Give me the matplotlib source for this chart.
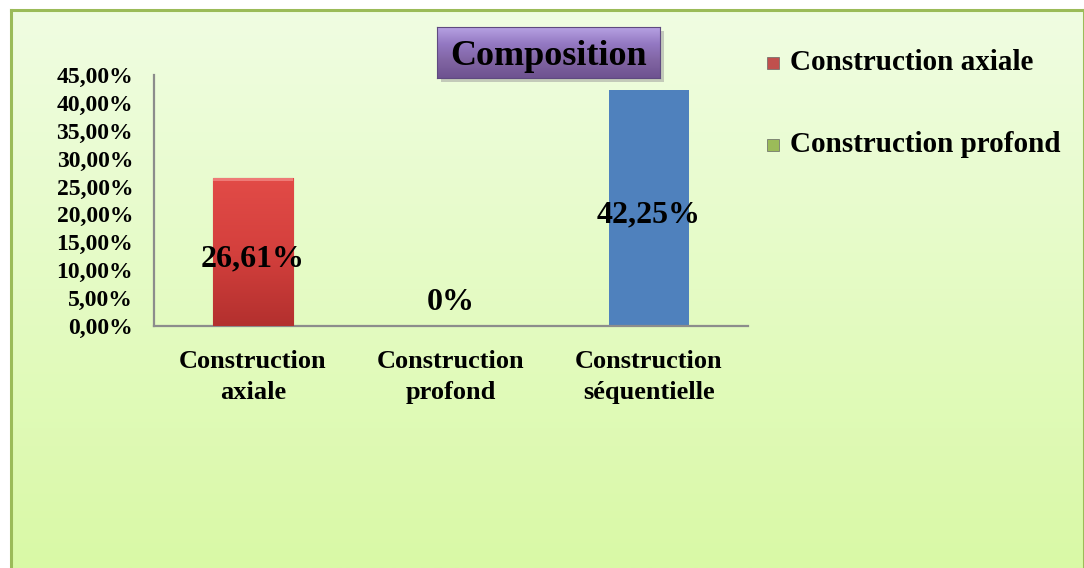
import numpy as np
import matplotlib.pyplot as plt
from matplotlib.patches import Rectangle
from matplotlib.colors import LinearSegmentedColormap

categories = ['Construction\naxiale', 'Construction\nprofond', 'Construction\nséquentielle']
values = [26.61, 0.0, 42.25]
value_labels = ['26,61%', '0%', '42,25%']
legend_labels = ['Construction axiale', 'Construction profond']
yticks = [0, 5, 10, 15, 20, 25, 30, 35, 40, 45]

W, H = 1084, 568
serif = 'Liberation Serif'

fig = plt.figure(figsize=(W / 100, H / 100), dpi=100)
fig.patch.set_facecolor('white')

# chart area: pale green gradient with a green border
bg = fig.add_axes([11 / W, 0, (W - 11) / W, (H - 10) / H])
bg.set_zorder(0)
bg_cmap = LinearSegmentedColormap.from_list('bg', ['#f0fde2', '#d9f9a6'])
bg.imshow(np.linspace(0, 1, 256).reshape(-1, 1), cmap=bg_cmap, aspect='auto',
          extent=[0, 1, 0, 1], origin='upper')
bg.set_xlim(0, 1)
bg.set_ylim(0, 1)
bg.set_xticks([])
bg.set_yticks([])
for s in bg.spines.values():
    s.set_color('#9bbb59')
    s.set_linewidth(2.2)
bg.spines['bottom'].set_visible(False)

ax = fig.add_axes([154 / W, (H - 326) / H, (748 - 154) / W, (326 - 75) / H])
ax.set_zorder(2)
ax.patch.set_visible(False)
x = np.arange(len(categories))
bars = ax.bar(x, values, width=0.405, color=['#c0504d', '#9bbb59', '#4f81bd'], zorder=2)

# red bar gets a vertical shading like the original office style
red = bars[0]
red_cmap = LinearSegmentedColormap.from_list('red', ['#e24b47', '#d4403d', '#b3302e'])
bx, bw, bh = red.get_x(), red.get_width(), red.get_height()
img = ax.imshow(np.linspace(0, 1, 256).reshape(-1, 1), cmap=red_cmap, aspect='auto',
                extent=[bx, bx + bw, 0, bh], origin='upper', zorder=3)
img.set_clip_path(red)
red.set_edgecolor('#a02a28')
red.set_linewidth(0.8)
ax.add_patch(Rectangle((bx, bh * 0.975), bw, bh * 0.025, color='#ee7a76', zorder=4, lw=0))

ax.set_xlim(-0.5, 2.5)
ax.set_ylim(0, 45)
ax.set_yticks(yticks)
ax.set_yticklabels(['%d,00%%' % t for t in yticks], fontfamily=serif,
                   fontweight='bold', fontsize=17)
ax.set_xticks(x)
ax.set_xticklabels(categories, fontfamily=serif, fontweight='bold', fontsize=19,
                   linespacing=1.45)
ax.tick_params(axis='y', length=0, pad=15)
ax.tick_params(axis='x', length=0, pad=17)
for side in ['top', 'right']:
    ax.spines[side].set_visible(False)
for side in ['left', 'bottom']:
    ax.spines[side].set_color('#8c8c8c')
    ax.spines[side].set_linewidth(1.6)

for xi, v, lab in zip(x, values, value_labels):
    if v > 0:
        ax.annotate(lab, (xi, v / 2), xytext=(0, -7), textcoords='offset pixels',
                    ha='center', va='center', fontfamily=serif,
                    fontweight='bold', fontsize=23, zorder=5)
    else:
        ax.annotate(lab, (xi, 0), xytext=(0, 24), textcoords='offset pixels',
                    ha='center', va='center', fontfamily=serif,
                    fontweight='bold', fontsize=23, zorder=5)

# title in a purple bevelled box with shadow
shadow_ax = fig.add_axes([441 / W, (H - 82) / H, 223 / W, 51 / H])
shadow_ax.set_zorder(3)
shadow_ax.set_facecolor('#9a9a9a')
shadow_ax.patch.set_alpha(0.5)
shadow_ax.set_xticks([])
shadow_ax.set_yticks([])
for s in shadow_ax.spines.values():
    s.set_visible(False)

tax = fig.add_axes([437 / W, (H - 78) / H, 223 / W, 51 / H])
tax.set_zorder(4)
t_cmap = LinearSegmentedColormap.from_list('pur', ['#b7a2e3', '#9378c2', '#8064a2', '#6e5290'])
tax.imshow(np.linspace(0, 1, 256).reshape(-1, 1), cmap=t_cmap, aspect='auto',
           extent=[0, 1, 0, 1], origin='upper')
tax.set_xticks([])
tax.set_yticks([])
for s in tax.spines.values():
    s.set_color('#5f4a80')
    s.set_linewidth(0.8)
tax.text(0.5, 0.43, 'Composition', ha='center', va='center', transform=tax.transAxes,
         fontfamily=serif, fontweight='bold', fontsize=26, color='black')

# legend on the right
leg_colors = ['#c0504d', '#9bbb59']
leg_y = [63, 145]
for lab, c, yy in zip(legend_labels, leg_colors, leg_y):
    fig.patches.append(Rectangle((767 / W, (H - yy - 6) / H), 12 / W, 12 / H,
                                 transform=fig.transFigure, facecolor=c,
                                 edgecolor='#666666', linewidth=0.5, zorder=3))
    fig.text(790 / W, (H - yy) / H, lab, ha='left', va='center', fontfamily=serif,
             fontweight='bold', fontsize=21)

fig.savefig('out.png', dpi=100)
